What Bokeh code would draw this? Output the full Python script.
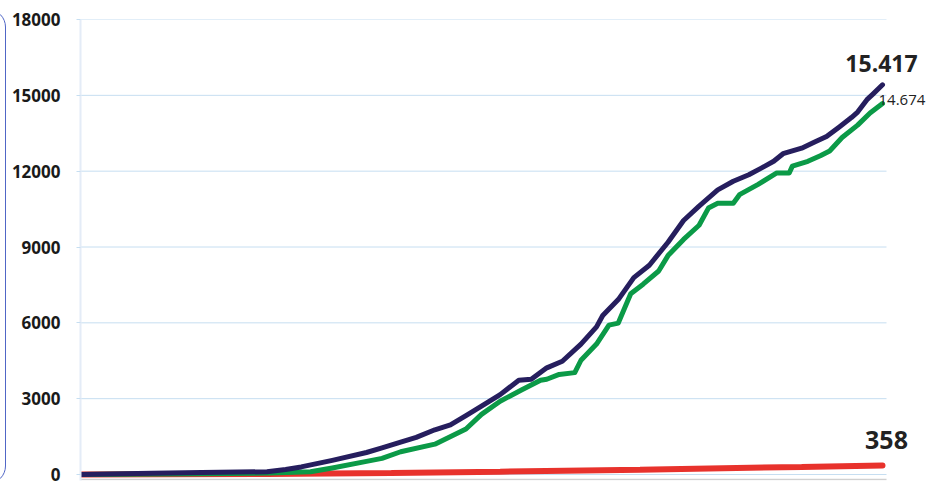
from bokeh.plotting import figure
from bokeh.models import FixedTicker, Range1d, Label, InlineStyleSheet
from bokeh.embed import file_html
from bokeh.resources import INLINE

# Total confirmed cases (navy)
total_days = [0, 23, 39, 60, 66, 71, 81, 92, 97, 103, 108, 114, 119, 124, 129, 135, 141, 145,
              150, 155, 161, 166, 168, 173, 178, 183, 189, 194, 199, 205, 210, 215, 219, 223,
              226, 232, 236, 240, 244, 248, 250, 253, 255, 258]
total_vals = [0, 50, 80, 110, 200, 300, 560, 870, 1050, 1280, 1470, 1770, 1960, 2330, 2710, 3160,
              3730, 3770, 4220, 4480, 5160, 5840, 6290, 6920, 7790, 8280, 9190, 10050, 10620,
              11260, 11600, 11860, 12120, 12390, 12690, 12910, 13140, 13370, 13740, 14120, 14340,
              14830, 15060, 15417]

# Recovered (green)
recov_days = [0, 39, 61, 74, 81, 92, 97, 103, 114, 124, 129, 135, 142, 148, 150, 154, 159, 161,
              166, 170, 173, 177, 181, 186, 189, 194, 199, 202, 205, 210, 212, 218, 224, 228,
              229, 234, 238, 241, 245, 250, 254, 258]
recov_vals = [0, 30, 60, 110, 260, 520, 640, 900, 1200, 1800, 2380, 2900, 3350, 3730, 3770, 3960,
              4030, 4520, 5160, 5910, 5990, 7150, 7530, 8050, 8660, 9300, 9860, 10540, 10730,
              10730, 11070, 11480, 11930, 11930, 12200, 12390, 12610, 12800, 13330, 13820,
              14300, 14674]

# Deaths (red)
death_days = [0, 60, 100, 135, 180, 232, 258]
death_vals = [0, 25, 60, 110, 190, 300, 358]

y_ticks = [0, 3000, 6000, 9000, 12000, 15000, 18000]
label_total = "15.417"
label_recov = "14.674"
label_death = "358"

FONT = "Open Sans"

W, H = 929, 486
LEFT, TOP, BOTTOM = 80, 19, 6
last_day = total_days[-1]
x_end = last_day * (W - LEFT) / 802.0      # frame spans to figure edge, so labels are not clipped
grid_end = last_day * 806.0 / 802.0        # grid lines stop just past the last point

p = figure(width=W, height=H, output_backend="svg", toolbar_location=None,
           x_range=Range1d(0, x_end), y_range=Range1d(-237, 18000),
           min_border_left=LEFT, min_border_right=0, min_border_top=TOP, min_border_bottom=BOTTOM)
p.outline_line_color = None
p.background_fill_color = "white"
p.border_fill_color = "white"

p.xaxis.visible = False
p.xgrid.visible = False
p.ygrid.visible = False

yax = p.yaxis[0]
yax.ticker = FixedTicker(ticks=y_ticks)
yax.axis_line_color = "#e4ecf7"
yax.axis_line_width = 2
yax.major_tick_line_color = "#c6def1"
yax.major_tick_out = 4
yax.major_tick_in = 0
yax.minor_tick_line_color = None
yax.major_label_text_font = FONT
yax.major_label_text_font_style = "bold"
yax.major_label_text_font_size = "17px"
yax.major_label_text_color = "#1a1a1a"
yax.major_label_standoff = 16

# horizontal grid lines (stop at the right end of the data)
p.segment(x0=[0] * len(y_ticks), x1=[grid_end] * len(y_ticks), y0=y_ticks, y1=y_ticks,
          line_color="#c6def1", line_width=1)
# light grey baseline just under zero
p.segment(x0=[0], x1=[grid_end], y0=[-200], y1=[-200], line_color="#d0d0d0", line_width=1.5)

# rounded panel border peeking in from the left edge
p.stylesheets = [InlineStyleSheet(css="""
:host { position: relative; }
:host::after {
  content: '';
  position: absolute;
  left: -70px; top: 9px;
  width: 76px; height: 475px;
  box-sizing: border-box;
  border: 1.3px solid #5066c6;
  border-radius: 18px;
  pointer-events: none;
}
""")]

p.line(death_days, death_vals, line_color="#e8322c", line_width=6, line_cap="round")
p.line(recov_days, recov_vals, line_color="#0b9a47", line_width=5, line_cap="round", line_join="round")
p.line(total_days, total_vals, line_color="#261e5e", line_width=5, line_cap="round", line_join="round")

p.add_layout(Label(x=total_days[-1], y=total_vals[-1], text=label_total,
                   text_font=FONT, text_font_style="bold", text_font_size="23px",
                   text_color="#222222", text_align="center", text_baseline="middle",
                   x_offset=-1, y_offset=21))
p.add_layout(Label(x=recov_days[-1], y=recov_vals[-1], text=label_recov,
                   text_font=FONT, text_font_size="15px",
                   text_color="#222222", text_align="left", text_baseline="middle",
                   x_offset=-4, y_offset=4))
p.add_layout(Label(x=death_days[-1], y=death_vals[-1], text=label_death,
                   text_font=FONT, text_font_style="bold", text_font_size="25px",
                   text_color="#222222", text_align="center", text_baseline="middle",
                   x_offset=4, y_offset=25))

open("out.html", "w").write(file_html(p, INLINE))
